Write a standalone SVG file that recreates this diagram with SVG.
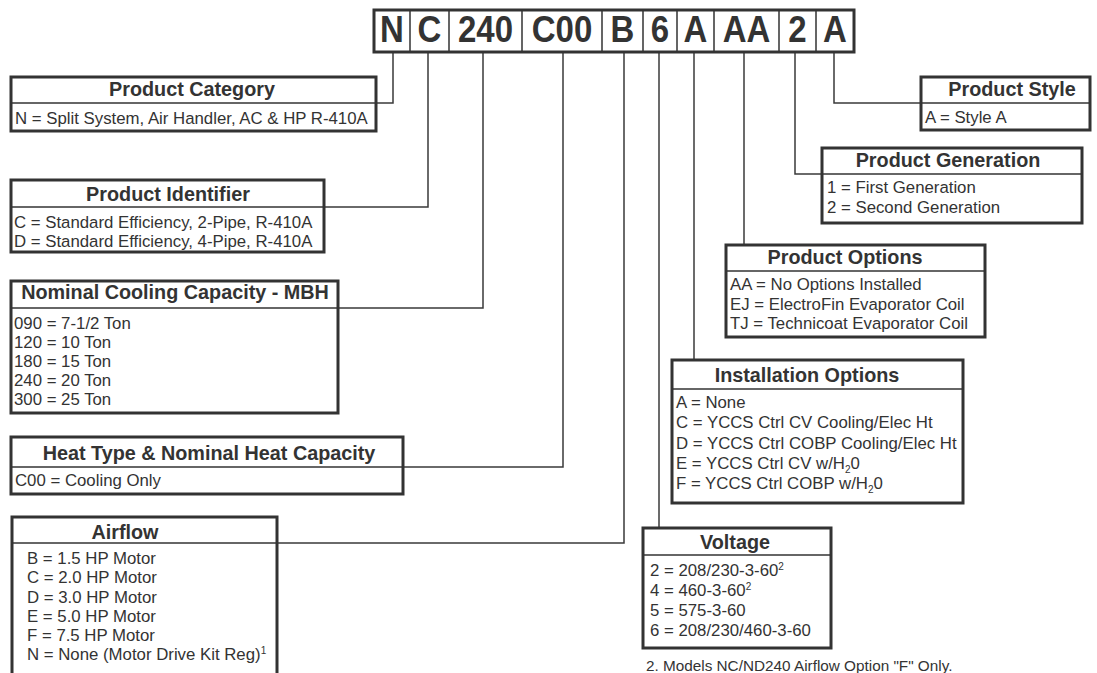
<svg xmlns="http://www.w3.org/2000/svg" width="1097" height="673" viewBox="0 0 1097 673">
<style>
.box{fill:#fff;stroke:#333;stroke-width:3}
.div{stroke:#333;stroke-width:1.5;fill:none}
.con{stroke:#3a3a3a;stroke-width:1.5;fill:none}
.title{font-family:"Liberation Sans",Arial,sans-serif;font-weight:bold;font-size:19.8px;fill:#333;text-anchor:middle}
.body{font-family:"Liberation Sans",Arial,sans-serif;font-size:16.8px;fill:#333}
.code{font-family:"Liberation Sans",Arial,sans-serif;font-weight:bold;font-size:33px;fill:#333;text-anchor:middle}
.note{font-family:"Liberation Sans",Arial,sans-serif;font-size:15.3px;fill:#333}
.sup{font-size:10px}
</style>
<rect width="1097" height="673" fill="#fff"/>

<g id="connectors">
<path class="con" d="M393 52V103H376"/>
<path class="con" d="M428 52V207H324"/>
<path class="con" d="M483 52V308H338"/>
<path class="con" d="M563 52V467H403"/>
<path class="con" d="M624 52V543H277"/>
<path class="con" d="M659 52V528"/>
<path class="con" d="M694 52V360"/>
<path class="con" d="M744 52V245"/>
<path class="con" d="M795 52V174H822"/>
<path class="con" d="M834 52V103H921"/>
</g>

<g id="model-code">
<rect x="374" y="10" width="480" height="42" fill="#fff" stroke="#333" stroke-width="3"/>
<path class="div" d="M410 10V52M449 10V52M522 10V52M602 10V52M643 10V52M677 10V52M714 10V52M779 10V52M816 10V52"/>
<g transform="translate(0,42) scale(1,1.1)">
<text class="code" x="392" y="0">N</text>
<text class="code" x="429.5" y="0">C</text>
<text class="code" x="485.5" y="0">240</text>
<text class="code" x="562" y="0">C00</text>
<text class="code" x="622.5" y="0">B</text>
<text class="code" x="660" y="0">6</text>
<text class="code" x="695.5" y="0">A</text>
<text class="code" x="746.5" y="0">AA</text>
<text class="code" x="797.5" y="0">2</text>
<text class="code" x="835" y="0">A</text>
</g>
</g>

<g id="product-category">
<rect class="box" x="11" y="77" width="365" height="54"/>
<path class="div" d="M11 103H376"/>
<text class="title" x="192" y="96">Product Category</text>
<text class="body" x="15" y="124">N = Split System, Air Handler, AC &amp; HP R-410A</text>
</g>

<g id="product-identifier">
<rect class="box" x="11" y="180" width="313" height="72"/>
<path class="div" d="M11 207H324"/>
<text class="title" x="168" y="201">Product Identifier</text>
<text class="body" x="14" y="228">C = Standard Efficiency, 2-Pipe, R-410A</text>
<text class="body" x="14" y="246.5">D = Standard Efficiency, 4-Pipe, R-410A</text>
</g>

<g id="nominal-cooling">
<rect class="box" x="11" y="281" width="327" height="132"/>
<path class="div" d="M11 308H338"/>
<text class="title" x="175" y="299">Nominal Cooling Capacity - MBH</text>
<text class="body" x="14" y="329">090 = 7-1/2 Ton</text>
<text class="body" x="14" y="348">120 = 10 Ton</text>
<text class="body" x="14" y="367">180 = 15 Ton</text>
<text class="body" x="14" y="386">240 = 20 Ton</text>
<text class="body" x="14" y="405">300 = 25 Ton</text>
</g>

<g id="heat-type">
<rect class="box" x="11" y="437" width="392" height="57"/>
<path class="div" d="M11 467H403"/>
<text class="title" x="209" y="460">Heat Type &amp; Nominal Heat Capacity</text>
<text class="body" x="15" y="486">C00 = Cooling Only</text>
</g>

<g id="airflow">
<rect class="box" x="12" y="517" width="265" height="180"/>
<path class="div" d="M12 543H277"/>
<text class="title" x="125" y="539">Airflow</text>
<text class="body" x="27" y="564">B = 1.5 HP Motor</text>
<text class="body" x="27" y="583">C = 2.0 HP Motor</text>
<text class="body" x="27" y="602.5">D = 3.0 HP Motor</text>
<text class="body" x="27" y="622">E = 5.0 HP Motor</text>
<text class="body" x="27" y="641">F = 7.5 HP Motor</text>
<text class="body" x="27" y="660">N = None (Motor Drive Kit Reg)<tspan class="sup" dy="-6">1</tspan></text>
</g>

<g id="voltage">
<rect class="box" x="643" y="528" width="188" height="120"/>
<path class="div" d="M643 555H831"/>
<text class="title" x="735" y="549">Voltage</text>
<text class="body" x="650" y="576">2 = 208/230-3-60<tspan class="sup" dy="-6">2</tspan></text>
<text class="body" x="650" y="596">4 = 460-3-60<tspan class="sup" dy="-6">2</tspan></text>
<text class="body" x="650" y="616">5 = 575-3-60</text>
<text class="body" x="650" y="636">6 = 208/230/460-3-60</text>
</g>

<g id="footnote">
<text class="note" x="646" y="671">2. Models NC/ND240 Airflow Option "F" Only.</text>
</g>

<g id="installation-options">
<rect class="box" x="672" y="360" width="291" height="143"/>
<path class="div" d="M672 389H963"/>
<text class="title" x="807" y="382">Installation Options</text>
<text class="body" x="676" y="408">A = None</text>
<text class="body" x="676" y="428">C = YCCS Ctrl CV Cooling/Elec Ht</text>
<text class="body" x="676" y="449">D = YCCS Ctrl COBP Cooling/Elec Ht</text>
<text class="body" x="676" y="469">E = YCCS Ctrl CV w/H<tspan class="sup" dy="4">2</tspan><tspan dy="-4">0</tspan></text>
<text class="body" x="676" y="489">F = YCCS Ctrl COBP w/H<tspan class="sup" dy="4">2</tspan><tspan dy="-4">0</tspan></text>
</g>

<g id="product-options">
<rect class="box" x="726" y="245" width="259" height="92"/>
<path class="div" d="M726 271H985"/>
<text class="title" x="845" y="264">Product Options</text>
<text class="body" x="730" y="290">AA = No Options Installed</text>
<text class="body" x="730" y="310">EJ = ElectroFin Evaporator Coil</text>
<text class="body" x="730" y="329">TJ = Technicoat Evaporator Coil</text>
</g>

<g id="product-generation">
<rect class="box" x="822" y="148" width="260" height="75"/>
<path class="div" d="M822 174H1082"/>
<text class="title" x="948" y="167">Product Generation</text>
<text class="body" x="827" y="193">1 = First Generation</text>
<text class="body" x="827" y="213">2 = Second Generation</text>
</g>

<g id="product-style">
<rect class="box" x="921" y="77" width="169" height="53"/>
<path class="div" d="M921 103H1090"/>
<text class="title" x="1012" y="96">Product Style</text>
<text class="body" x="925" y="123">A = Style A</text>
</g>
</svg>
